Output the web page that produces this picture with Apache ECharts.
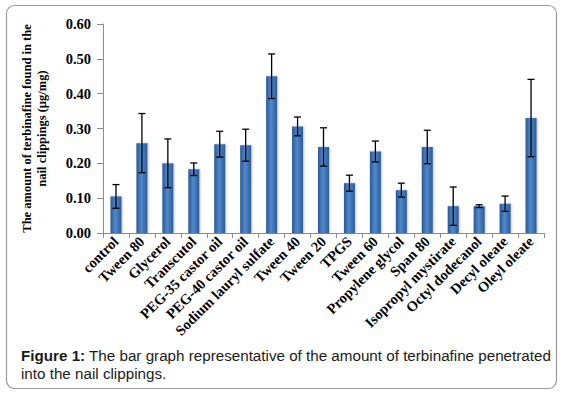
<!DOCTYPE html>
<html>
<head>
<meta charset="utf-8">
<script src="https://cdn.jsdelivr.net/npm/echarts@6/dist/echarts.min.js"></script>
<style>
  html, body { margin: 0; padding: 0; background: #fff; }
  #main { width: 564px; height: 393px; }
</style>
</head>
<body>
<div id="main"></div>
<script>
const categories = ['control', 'Tween 80', 'Glycerol', 'Transcutol', 'PEG-35 castor oil', 'PEG-40 castor oil',
  'Sodium lauryl sulfate', 'Tween 40', 'Tween 20', 'TPGS', 'Tween 60', 'Propylene glycol', 'Span 80',
  'Isopropyl mystirate', 'Octyl dodecanol', 'Decyl oleate', 'Oleyl oleate'];
const means = [0.105, 0.258, 0.200, 0.183, 0.255, 0.252, 0.450, 0.306, 0.247, 0.143, 0.234, 0.123, 0.247,
  0.077, 0.077, 0.084, 0.330];
const errors = [0.034, 0.085, 0.070, 0.018, 0.037, 0.046, 0.064, 0.027, 0.055, 0.023, 0.030, 0.020, 0.048,
  0.055, 0.004, 0.022, 0.111];
const yTicks = ['0.00', '0.10', '0.20', '0.30', '0.40', '0.50', '0.60'];

const chart = echarts.init(document.getElementById('main'), null, { renderer: 'svg' });

const barColor = new echarts.graphic.LinearGradient(0, 0, 1, 0, [
  { offset: 0, color: '#2a5894' },
  { offset: 0.45, color: '#5089cc' },
  { offset: 1, color: '#2c5b98' }
]);

const errData = means.map((m, i) => [i, m - errors[i], m + errors[i]]);

const option = {
  backgroundColor: '#ffffff',
  animation: false,
  graphic: [
    {
      type: 'rect',
      shape: { x: 6.5, y: 5.5, width: 550, height: 383, r: 8 },
      style: { fill: 'none', stroke: '#9a9a9a', lineWidth: 1.2 }
    },
    {
      type: 'text',
      left: 21, top: 346,
      style: {
        text: '{b|Figure 1:} The bar graph representative of the amount of terbinafine penetrated\ninto the nail clippings.',
        rich: {
          b: { fontWeight: 'bold', fontFamily: 'Liberation Sans, Arial', fontSize: 15.2, fill: '#1a1a1a' }
        },
        fontFamily: 'Liberation Sans, Arial',
        fontSize: 15.2,
        lineHeight: 18,
        fill: '#1a1a1a'
      }
    }
  ],
  grid: { left: 103, right: 20, top: 24, bottom: 160 },
  xAxis: {
    type: 'category',
    data: categories,
    axisLine: { lineStyle: { color: '#8c8c8c' } },
    axisTick: { show: true, alignWithLabel: false, length: 5, lineStyle: { color: '#8c8c8c' } },
    axisLabel: {
      interval: 0,
      rotate: 45,
      margin: 6,
      color: '#000',
      fontFamily: 'Liberation Serif, Times New Roman',
      fontWeight: 'bold',
      fontSize: 14.5
    }
  },
  yAxis: {
    type: 'value',
    min: 0,
    max: 0.6,
    interval: 0.1,
    name: 'The amount of terbinafine found in the\nnail clippings (µg/mg)',
    nameLocation: 'middle',
    nameGap: 54,
    nameTextStyle: {
      color: '#000',
      fontFamily: 'Liberation Serif, Times New Roman',
      fontWeight: 'bold',
      fontSize: 12.5,
      lineHeight: 15
    },
    axisLine: { show: true, lineStyle: { color: '#8c8c8c' } },
    axisTick: { show: true, length: 6, lineStyle: { color: '#8c8c8c' } },
    splitLine: { show: false },
    axisLabel: {
      margin: 12,
      color: '#000',
      fontFamily: 'Liberation Serif, Times New Roman',
      fontWeight: 'bold',
      fontSize: 14.5,
      formatter: (v) => yTicks[Math.round(v * 10)]
    }
  },
  series: [
    {
      type: 'bar',
      data: means,
      barWidth: 11,
      itemStyle: {
        color: barColor,
        shadowColor: 'rgba(0,0,0,0.25)',
        shadowBlur: 2,
        shadowOffsetX: 1
      }
    },
    {
      type: 'custom',
      data: errData,
      z: 5,
      renderItem: (params, api) => {
        const x = api.value(0);
        const lo = api.coord([x, api.value(1)]);
        const hi = api.coord([x, api.value(2)]);
        const w = 3.5;
        const st = { stroke: '#000', lineWidth: 1.3 };
        return {
          type: 'group',
          children: [
            { type: 'line', shape: { x1: lo[0], y1: lo[1], x2: hi[0], y2: hi[1] }, style: st },
            { type: 'line', shape: { x1: hi[0] - w, y1: hi[1], x2: hi[0] + w, y2: hi[1] }, style: st },
            { type: 'line', shape: { x1: lo[0] - w, y1: lo[1], x2: lo[0] + w, y2: lo[1] }, style: st }
          ]
        };
      }
    }
  ]
};

chart.setOption(option);
</script>
</body>
</html>
